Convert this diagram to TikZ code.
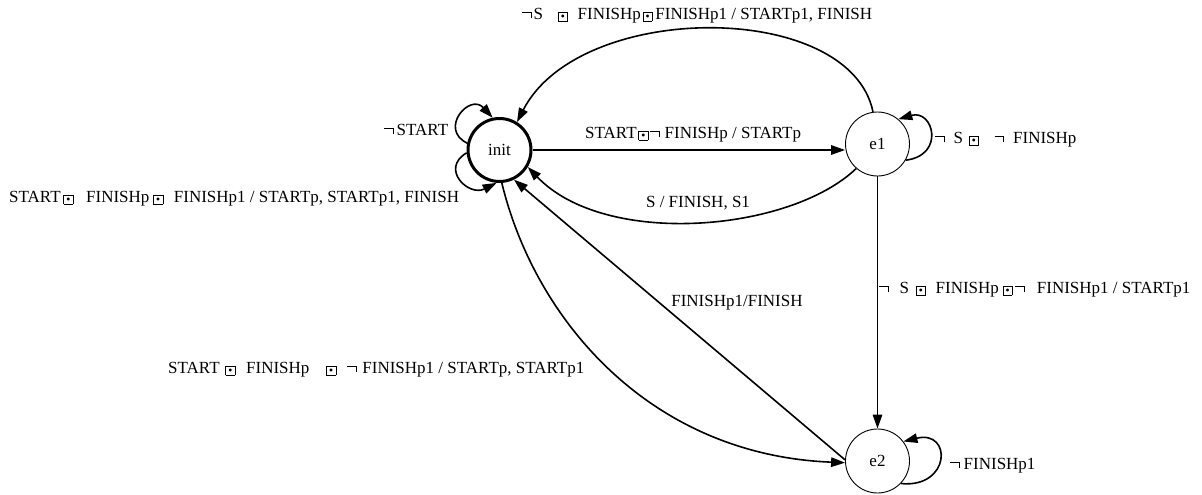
\documentclass[tikz,border=0pt]{standalone}
\usepackage{fontspec}
\setmainfont{Liberation Serif}
\usetikzlibrary{arrows.meta}
\newcommand{\hsp}[1]{\hspace*{#1pt}}
\newcommand{\sqdotsym}{{\unitlength=1pt\linethickness{0.75pt}\raisebox{-1.5pt}{\begin{picture}(9.5,9)
\put(0,0){\line(1,0){9.5}}\put(0,9){\line(1,0){9.5}}\put(0,0){\line(0,1){9}}\put(9.5,0){\line(0,1){9}}
\put(4.75,4.5){\circle*{2.6}}\end{picture}}}}
\newcommand{\negsym}{{\unitlength=1pt\linethickness{0.8pt}\begin{picture}(9.5,7)
\put(0,6.8){\line(1,0){9.5}}\put(9.1,1.2){\line(0,1){6}}\end{picture}}}
\begin{document}
\begin{tikzpicture}[x=1pt,y=-1pt,
  stnode/.style={circle,draw,line width=0.9pt,minimum size=64pt,inner sep=0pt,font=\fontsize{17}{20}\selectfont},
  lbl/.style={inner sep=0pt,text height=11.3pt,text depth=0pt,font=\fontsize{17}{20}\selectfont},
  conn/.style={line width=1.6pt,-{Triangle[length=14pt,width=9.5pt]}}]
\path[use as bounding box] (0,0) rectangle (1202,495);

\node[stnode,line width=3pt,minimum size=63pt] (init) at (499.5,150) {init};
\node[stnode] (e1) at (877.5,144) {e1};
\node[stnode] (e2) at (877.5,461) {e2};

% edges
\draw[conn] (init.0) -- (init.0 -| e1.west);
\draw[conn] (e1.98) .. controls (850,0) and (580,0) .. (init.58);
\draw[conn] (e1.229) .. controls (790,232) and (605,248) .. (init.329);
\draw[conn] (e1.south) -- (e2.north);
\draw[conn] (e2.178) -- (init.296);
\draw[conn] (init.274) .. controls (535,320) and (650,455) .. (e2.183);
\draw[conn] (init.168) .. controls +(-29,-14) and +(-23,-25) .. (init.102);
\draw[conn] (init.185) .. controls +(-27,16) and +(-28,14) .. (init.265);
\draw[conn] (e1.-30) .. controls +(40,-5) and +(35,-10) .. (e1.50);
\draw[conn] (e2.-44) .. controls +(50,5) and +(49,-12) .. (e2.37);

% labels
\node[lbl,anchor=west] (l1) at (522,14) {\negsym\hsp{2}S\hsp{15}\sqdotsym\hsp{10}FINISHp\hsp{2}\sqdotsym\hsp{3}FINISHp1 / STARTp1, FINISH};
\node[lbl,anchor=west] (l2) at (384,130) {\negsym\hsp{3}START};
\node[lbl,anchor=west] (l3) at (9,197) {START\hsp{3}\sqdotsym\hsp{13}FINISHp\hsp{4}\sqdotsym\hsp{11}FINISHp1 / STARTp, STARTp1, FINISH};
\node[lbl,anchor=west] (l4) at (585,133) {START\hsp{2}\sqdotsym\hsp{2}\negsym\hsp{5}FINISHp / STARTp};
\node[lbl,anchor=west] (l5) at (935,138) {\negsym\hsp{9}S\hsp{6}\sqdotsym\hsp{16}\negsym\hsp{9}FINISHp};
\node[lbl] (l6) at (698,202) {S / FINISH, S1};
\node[lbl,anchor=west] (l7) at (879,288) {\negsym\hsp{11}S\hsp{7}\sqdotsym\hsp{10}FINISHp\hsp{4}\sqdotsym\hsp{3}\negsym\hsp{12}FINISHp1 / STARTp1};
\node[lbl] (l8) at (737,301) {FINISHp1/FINISH};
\node[lbl,anchor=west] (l9) at (168,368) {START\hsp{6}\sqdotsym\hsp{11}FINISHp\hsp{17}\sqdotsym\hsp{11}\negsym\hsp{6}FINISHp1 / STARTp, STARTp1};
\node[lbl,anchor=west] (l10) at (950,464) {\negsym\hsp{4}FINISHp1};
\end{tikzpicture}
\end{document}
